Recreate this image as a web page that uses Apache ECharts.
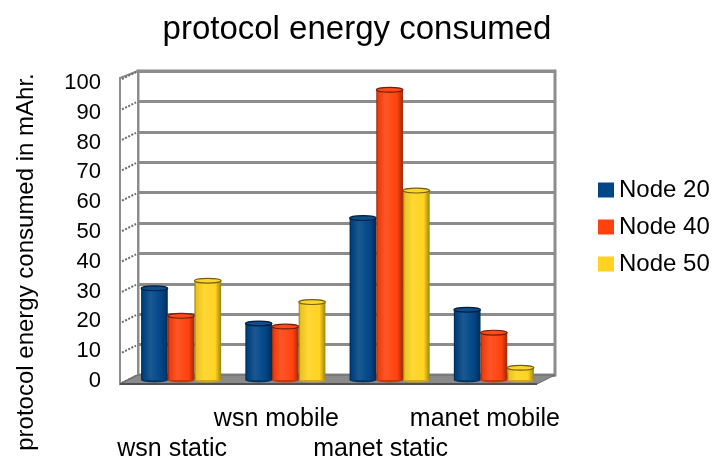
<!DOCTYPE html>
<html>
<head>
<meta charset="utf-8">
<title>protocol energy consumed</title>
<script src="https://cdn.jsdelivr.net/npm/echarts@6/dist/echarts.min.js"></script>
<style>
  html, body { margin: 0; padding: 0; background: #ffffff; }
  #chart { width: 715px; height: 464px; }
</style>
</head>
<body>
<div id="chart"></div>
<script>
// Scenario categories along the x axis
const categories = ['wsn static', 'wsn mobile', 'manet static', 'manet mobile'];

// Energy consumed (mAhr) per node count
const node20 = [30, 18.5, 53, 23];
const node40 = [21, 17.5, 95, 15.5];
const node50 = [32.5, 25.5, 62, 4];

const seriesNames = ['Node 20', 'Node 40', 'Node 50'];
const seriesColors = ['#004586', '#ff420e', '#ffd320'];

// Value axis ticks
const yMin = 0;
const yMax = 100;
const yStep = 10;

const FONT = "'Liberation Sans', Arial, sans-serif";

// Depth offset from back wall to front edge of the box
const DEPTH_X = -18;
const DEPTH_Y = 9;

function shade(hex, f) {
  const n = parseInt(hex.slice(1), 16);
  let r = (n >> 16) & 255, g = (n >> 8) & 255, b = n & 255;
  const mix = (c) => f < 0 ? Math.round(c * (1 + f)) : Math.round(c + (255 - c) * f);
  r = mix(r); g = mix(g); b = mix(b);
  return 'rgb(' + r + ',' + g + ',' + b + ')';
}

// Side wall and floor, drawn from the back-wall coordinate system
function renderBox(params, api) {
  const cs = params.coordSys;
  const x = cs.x, y = cs.y, w = cs.width, h = cs.height;
  const children = [];
  // side wall
  children.push({
    type: 'polygon',
    shape: { points: [[x, y], [x, y + h], [x + DEPTH_X, y + h + DEPTH_Y], [x + DEPTH_X, y + DEPTH_Y - 2]] },
    style: { fill: '#ffffff', stroke: '#8c8c8c', lineWidth: 2 }
  });
  // tick marks on the side wall
  for (let v = yMin; v <= yMax; v += yStep) {
    const p = api.coord([0, v]);
    children.push({
      type: 'line',
      shape: { x1: x + DEPTH_X + 2, y1: p[1] + DEPTH_Y - 1, x2: x - 2, y2: p[1] + 1 },
      style: { stroke: '#6a6a6a', lineWidth: 2, lineDash: [2, 1.5] }
    });
  }
  // floor
  children.push({
    type: 'polygon',
    shape: { points: [[x, y + h], [x + w, y + h], [x + w + DEPTH_X, y + h + DEPTH_Y], [x + DEPTH_X, y + h + DEPTH_Y]] },
    style: { fill: '#8a8a8a', stroke: '#6a6a6a', lineWidth: 1 }
  });
  children.push({
    type: 'line',
    shape: { x1: x + DEPTH_X, y1: y + h + DEPTH_Y, x2: x + w + DEPTH_X, y2: y + h + DEPTH_Y },
    style: { stroke: '#505050', lineWidth: 2 }
  });
  return { type: 'group', children: children };
}

// Cylinder bars
function makeCylinderRenderer(idx) {
  const base = seriesColors[idx];
  return function (params, api) {
    const cat = api.value(0);
    const val = api.value(1);
    const bottom = api.coord([cat, 0]);
    const top = api.coord([cat, val]);
    const band = api.size([1, 0])[0];
    const bw = band * 0.256;
    const cx = bottom[0] + (idx - 1) * bw;
    const left = cx - bw / 2;
    const ry = 2.4;
    const body = new echarts.graphic.LinearGradient(0, 0, 1, 0, [
      { offset: 0, color: shade(base, -0.45) },
      { offset: 0.07, color: shade(base, -0.08) },
      { offset: 0.35, color: shade(base, 0.1) },
      { offset: 0.78, color: base },
      { offset: 1, color: shade(base, -0.38) }
    ]);
    return {
      type: 'group',
      children: [
        {
          type: 'ellipse',
          shape: { cx: cx, cy: bottom[1], rx: bw / 2, ry: ry },
          style: { fill: shade(base, -0.2) }
        },
        {
          type: 'rect',
          shape: { x: left, y: top[1], width: bw, height: bottom[1] - top[1] },
          style: { fill: body }
        },
        {
          type: 'ellipse',
          shape: { cx: cx, cy: top[1], rx: bw / 2, ry: ry },
          style: { fill: shade(base, 0.05), stroke: shade(base, -0.55), lineWidth: 1.2 }
        }
      ]
    };
  };
}

const seriesData = [node20, node40, node50];

const chart = echarts.init(document.getElementById('chart'), null, { renderer: 'canvas' });

const option = {
  backgroundColor: '#ffffff',
  animation: false,
  textStyle: { fontFamily: FONT },
  title: {
    text: 'protocol energy consumed',
    left: 352,
    textAlign: 'center',
    top: 8,
    textStyle: { fontFamily: FONT, fontSize: 33, fontWeight: 'normal', color: '#000000' }
  },
  legend: {
    orient: 'vertical',
    left: 593,
    top: 173,
    itemWidth: 16,
    itemHeight: 15,
    itemGap: 13,
    icon: 'rect',
    data: seriesNames,
    textStyle: { fontFamily: FONT, fontSize: 24, color: '#000000', lineHeight: 24 }
  },
  graphic: [
    {
      type: 'text',
      x: 26,
      y: 262,
      rotation: Math.PI / 2,
      style: {
        text: 'protocol energy consumed in mAhr.',
        fontFamily: FONT,
        fontSize: 24,
        fill: '#000000',
        align: 'center',
        verticalAlign: 'middle'
      }
    }
  ],
  grid: [
    // back wall
    { left: 138, right: 160, top: 71, bottom: 89, show: true, backgroundColor: '#ffffff', borderColor: '#8c8c8c', borderWidth: 3 },
    // bars at mid depth
    { left: 129, right: 169, top: 74.5, bottom: 84 },
    // front edge, carries the labels
    { left: 120, right: 178, top: 83, bottom: 82 }
  ],
  xAxis: [
    { gridIndex: 0, type: 'category', data: categories, show: false },
    { gridIndex: 1, type: 'category', data: categories, show: false },
    {
      gridIndex: 2, type: 'category', data: categories,
      axisLine: { show: false }, axisTick: { show: false },
      axisLabel: {
        interval: 0, margin: 23, fontFamily: FONT, fontSize: 25, color: '#000000', lineHeight: 30,
        formatter: function (v, i) { return i % 2 === 0 ? '\n' + v : v; }
      }
    }
  ],
  yAxis: [
    {
      gridIndex: 0, type: 'value', min: yMin, max: yMax, interval: yStep,
      axisLine: { show: false }, axisTick: { show: false }, axisLabel: { show: false },
      splitLine: { show: true, lineStyle: { color: '#8c8c8c', width: 3 } }
    },
    { gridIndex: 1, type: 'value', min: yMin, max: yMax, interval: yStep, show: false, splitLine: { show: false } },
    {
      gridIndex: 2, type: 'value', min: yMin, max: yMax, interval: yStep,
      axisLine: { show: false }, axisTick: { show: false }, splitLine: { show: false },
      axisLabel: { margin: 19, fontFamily: FONT, fontSize: 22, color: '#000000' }
    }
  ],
  series: [
    {
      type: 'custom',
      name: 'box',
      xAxisIndex: 0,
      yAxisIndex: 0,
      z: 1,
      silent: true,
      renderItem: renderBox,
      data: [[0, 0]]
    }
  ].concat(seriesData.map(function (arr, idx) {
    return {
      type: 'custom',
      name: seriesNames[idx],
      xAxisIndex: 1,
      yAxisIndex: 1,
      z: 3 + idx,
      itemStyle: { color: seriesColors[idx] },
      renderItem: makeCylinderRenderer(idx),
      data: arr.map(function (v, i) { return [i, v]; })
    };
  }))
};

chart.setOption(option);
</script>
</body>
</html>
